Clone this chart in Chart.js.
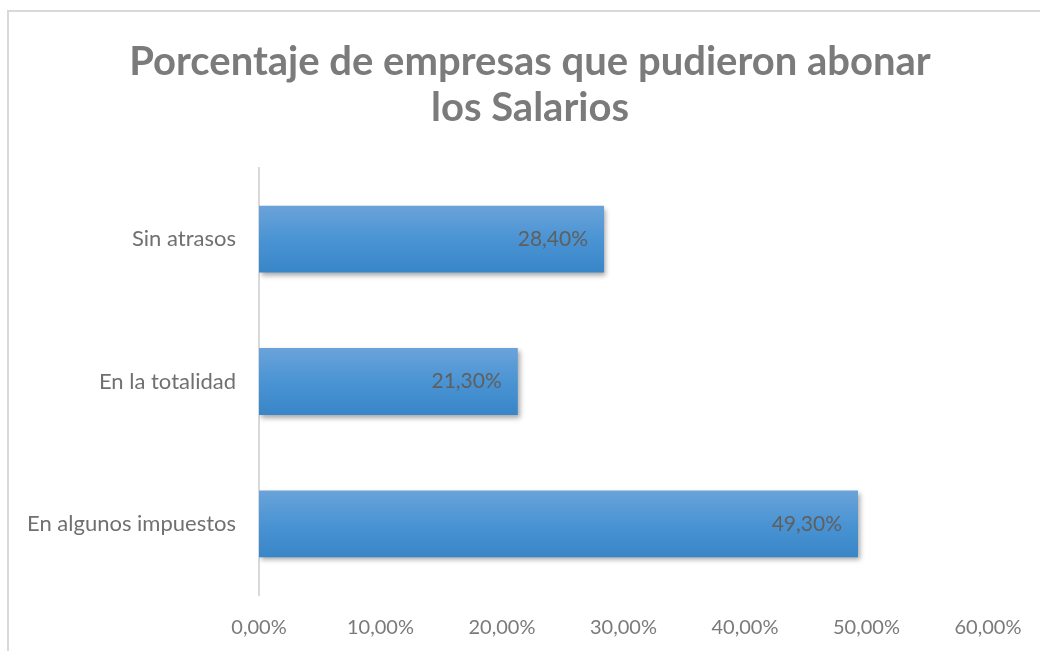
<!DOCTYPE html>
<html>
<head>
<meta charset="utf-8">
<script src="https://cdn.jsdelivr.net/npm/chart.js@4"></script>
<style>
  html, body { margin: 0; padding: 0; background: #fff; overflow: hidden; }
  #frame { position: absolute; left: 7px; top: 10px; width: 1100px; height: 700px; border: 2px solid #d9d9d9; box-sizing: border-box; }
  #chart { position: absolute; left: 0; top: 0; }
</style>
</head>
<body>
<div id="frame"></div>
<canvas id="chart" width="1040" height="651"></canvas>
<script>
// Chart data
const categories = ["Sin atrasos", "En la totalidad", "En algunos impuestos"];
const values = [28.4, 21.3, 49.3];
const xTicks = [0, 10, 20, 30, 40, 50, 60];
const titleLines = ["Porcentaje de empresas que pudieron abonar", "los Salarios"];

const FONT = "Lato, 'Open Sans', sans-serif";

function pct(v) {
  return v.toFixed(2).replace(".", ",") + "%";
}

// bar gradient, built per bar from the y scale
function barFill(context) {
  const chart = context.chart;
  const yScale = chart.scales.y;
  if (!chart.chartArea || !yScale) return "#4a90d0";
  const cy = yScale.getPixelForValue(context.dataIndex);
  const half = 34;
  const g = chart.ctx.createLinearGradient(0, cy - half, 0, cy + half);
  g.addColorStop(0, "#6ba3d9");
  g.addColorStop(0.5, "#4a94d4");
  g.addColorStop(1, "#3885c7");
  return g;
}

// drop shadow under the bars
const barShadow = {
  id: "barShadow",
  beforeDatasetDraw(chart) {
    const c = chart.ctx;
    c.save();
    c.shadowColor = "rgba(0,0,0,0.35)";
    c.shadowBlur = 5;
    c.shadowOffsetX = 2;
    c.shadowOffsetY = 3;
  },
  afterDatasetDraw(chart) {
    chart.ctx.restore();
  }
};

// value labels inside the bar end
const valueLabels = {
  id: "valueLabels",
  afterDatasetsDraw(chart) {
    const c = chart.ctx;
    const meta = chart.getDatasetMeta(0);
    c.save();
    c.font = "21px " + FONT;
    c.fillStyle = "#5f5f5f";
    c.textAlign = "right";
    c.textBaseline = "middle";
    meta.data.forEach((bar, i) => {
      c.fillText(pct(values[i]), bar.x - 16, bar.y);
    });
    c.restore();
  }
};

// title, centred on the frame rather than the plot
const titleText = {
  id: "titleText",
  afterDraw(chart) {
    const c = chart.ctx;
    c.save();
    c.font = "bold 40px " + FONT;
    c.fillStyle = "#7b7b7b";
    c.textAlign = "center";
    c.textBaseline = "alphabetic";
    c.fillText(titleLines[0], 530, 75);
    c.fillText(titleLines[1], 530, 121);
    c.restore();
  }
};

new Chart(document.getElementById("chart"), {
  type: "bar",
  data: {
    labels: categories,
    datasets: [{
      data: values,
      backgroundColor: barFill,
      borderWidth: 0,
      barPercentage: 0.94,
      categoryPercentage: 0.5
    }]
  },
  options: {
    indexAxis: "y",
    responsive: false,
    animation: false,
    devicePixelRatio: 1,
    layout: { padding: { left: 0, right: 52, top: 168, bottom: 0 } },
    plugins: {
      legend: { display: false },
      tooltip: { enabled: false },
      title: { display: false }
    },
    scales: {
      x: {
        min: 0,
        max: 60,
        afterBuildTicks(scale) {
          scale.ticks = xTicks.map(v => ({ value: v }));
        },
        afterFit(scale) { scale.height = 56; },
        grid: { display: false },
        border: { display: false },
        ticks: {
          color: "#7a7a7a",
          padding: 13,
          font: { family: FONT, size: 20 },
          callback: v => pct(v)
        }
      },
      y: {
        afterFit(scale) { scale.width = 259; },
        grid: { display: false },
        border: { display: true, color: "#d9d9d9", width: 2 },
        ticks: {
          color: "#707070",
          padding: 15,
          font: { family: FONT, size: 22 }
        }
      }
    }
  },
  plugins: [barShadow, valueLabels, titleText]
});
</script>
</body>
</html>
